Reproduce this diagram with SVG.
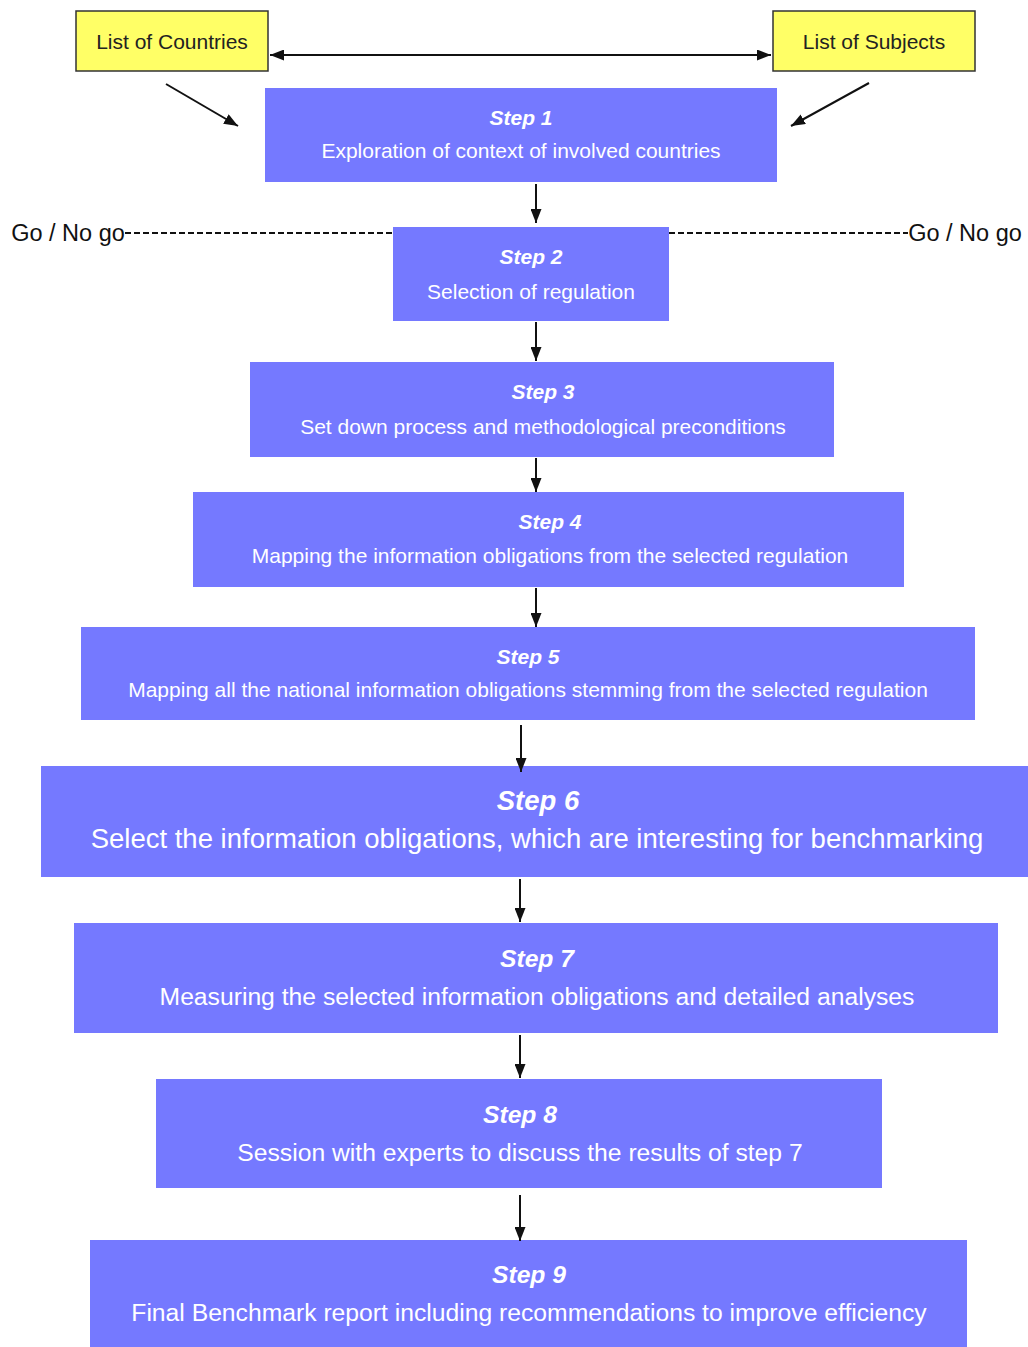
<svg xmlns="http://www.w3.org/2000/svg" width="1028" height="1347" viewBox="0 0 1028 1347">
  <style>
    .step rect { fill: #7579ff; }
    .src rect { fill: #ffff66; stroke: #333; stroke-width: 1.5; }
    text { font-family: "Liberation Sans", Arial, sans-serif; text-anchor: middle; }
    .src text { fill: #222; font-size: 21px; }
    .h { fill: #fff; font-weight: bold; font-style: italic; }
    .b { fill: #fff; }
    .s { font-size: 21px; }
    .l { font-size: 27.5px; }
    .m { font-size: 24.7px; }
    .gng { fill: #111; font-size: 23.5px; }
    .conn line { stroke: #111; stroke-width: 2; }
    .dash { stroke: #111; stroke-width: 2; stroke-dasharray: 6 3; }
  </style>
  <defs>
    <marker id="ah" viewBox="0 0 14 11" refX="14" refY="5.5" markerWidth="7" markerHeight="5.5" orient="auto-start-reverse" markerUnits="strokeWidth">
      <path d="M0,0 L14,5.5 L0,11 z" fill="#111"/>
    </marker>
  </defs>
  <rect width="1028" height="1347" fill="#fff"/>

  <g id="countries" class="src">
    <rect x="76" y="11" width="192" height="60"/>
    <text x="172" y="49">List of Countries</text>
  </g>
  <g id="subjects" class="src">
    <rect x="773" y="11" width="202" height="60"/>
    <text x="874" y="49">List of Subjects</text>
  </g>

  <g id="step1" class="step">
    <rect x="265" y="88" width="512" height="94"/>
    <text class="h s" x="521" y="125">Step 1</text>
    <text class="b s" x="521" y="158">Exploration of context of involved countries</text>
  </g>
  <g id="step2" class="step">
    <rect x="393" y="227" width="276" height="94"/>
    <text class="h s" x="531" y="264">Step 2</text>
    <text class="b s" x="531" y="299">Selection of regulation</text>
  </g>
  <g id="step3" class="step">
    <rect x="250" y="362" width="584" height="95"/>
    <text class="h s" x="543" y="399">Step 3</text>
    <text class="b s" x="543" y="434">Set down process and methodological preconditions</text>
  </g>
  <g id="step4" class="step">
    <rect x="193" y="492" width="711" height="95"/>
    <text class="h s" x="550" y="529">Step 4</text>
    <text class="b s" x="550" y="563">Mapping the information obligations from the selected regulation</text>
  </g>
  <g id="step5" class="step">
    <rect x="81" y="627" width="894" height="93"/>
    <text class="h s" x="528" y="664">Step 5</text>
    <text class="b s" x="528" y="697">Mapping all the national information obligations stemming from the selected regulation</text>
  </g>
  <g id="step6" class="step">
    <rect x="41" y="766" width="990" height="111"/>
    <text class="h l" x="538" y="810">Step 6</text>
    <text class="b l" x="537" y="848">Select the information obligations, which are interesting for benchmarking</text>
  </g>
  <g id="step7" class="step">
    <rect x="74" y="923" width="924" height="110"/>
    <text class="h m" x="537" y="967">Step 7</text>
    <text class="b m" x="537" y="1005">Measuring the selected information obligations and detailed analyses</text>
  </g>
  <g id="step8" class="step">
    <rect x="156" y="1079" width="726" height="109"/>
    <text class="h m" x="520" y="1123">Step 8</text>
    <text class="b m" x="520" y="1161">Session with experts to discuss the results of step 7</text>
  </g>
  <g id="step9" class="step">
    <rect x="90" y="1240" width="877" height="107"/>
    <text class="h m" x="529" y="1283">Step 9</text>
    <text class="b m" x="529" y="1321">Final Benchmark report including recommendations to improve efficiency</text>
  </g>

  <g id="gonogo-left">
    <text class="gng" x="68" y="241">Go / No go</text>
  </g>
  <g id="gonogo-right">
    <text class="gng" x="965" y="241">Go / No go</text>
  </g>

  <g id="connectors" class="conn">
    <line x1="270" y1="55" x2="771" y2="55" marker-start="url(#ah)" marker-end="url(#ah)"/>
    <line x1="166" y1="84" x2="238" y2="126" marker-end="url(#ah)"/>
    <line x1="869" y1="83" x2="791" y2="126" marker-end="url(#ah)"/>
    <line class="dash" x1="125" y1="233" x2="393" y2="233"/>
    <line class="dash" x1="669" y1="233" x2="908" y2="233"/>
    <line x1="536" y1="184" x2="536" y2="223" marker-end="url(#ah)"/>
    <line x1="536" y1="322" x2="536" y2="361" marker-end="url(#ah)"/>
    <line x1="536" y1="458" x2="536" y2="492" marker-end="url(#ah)"/>
    <line x1="536" y1="588" x2="536" y2="627" marker-end="url(#ah)"/>
    <line x1="521" y1="725" x2="521" y2="772" marker-end="url(#ah)"/>
    <line x1="520" y1="879" x2="520" y2="922" marker-end="url(#ah)"/>
    <line x1="520" y1="1035" x2="520" y2="1078" marker-end="url(#ah)"/>
    <line x1="520" y1="1195" x2="520" y2="1241" marker-end="url(#ah)"/>
  </g>
</svg>
